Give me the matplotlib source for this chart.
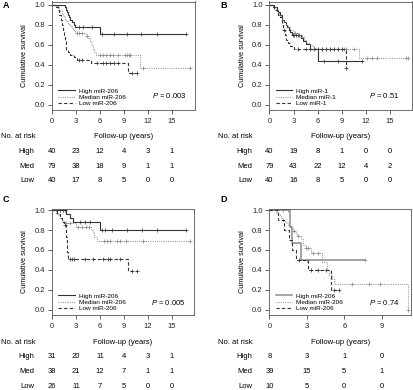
import numpy as np
import matplotlib
matplotlib.use("Agg")
import matplotlib.pyplot as plt
from matplotlib import transforms

plt.rcParams['font.family'] = ['Liberation Sans', 'DejaVu Sans']
plt.rcParams['mathtext.fontset'] = 'custom'
plt.rcParams['mathtext.it'] = 'Liberation Sans:italic'
plt.rcParams['mathtext.rm'] = 'Liberation Sans'

W, H = 414, 390

# ---------------- data ----------------
# each curve: step times, survival after each step, censor times
A_high_t = [1.6, 1.7, 1.85, 2.0, 2.1, 2.3, 2.5, 2.7, 2.9, 6.0]
A_high_s = [0.975, 0.95, 0.925, 0.90, 0.875, 0.85, 0.825, 0.80, 0.78, 0.71]
A_high_c = [3.4, 3.9, 5.0, 6.2, 7.7, 9.4, 11.2, 13.1, 16.8]
A_med_t = [0.5, 0.7, 0.9, 1.0, 1.2, 1.4, 1.6, 1.8, 2.0, 2.2, 2.5, 2.7, 2.9, 4.2, 4.5, 4.7, 4.9, 5.1, 5.3, 5.5, 11.0]
A_med_s = [0.987, 0.975, 0.95, 0.937, 0.91, 0.885, 0.86, 0.835, 0.81, 0.785, 0.76, 0.735, 0.715,
           0.69, 0.665, 0.64, 0.60, 0.56, 0.53, 0.50, 0.37]
A_med_c = [3.1, 3.4, 3.8, 4.4, 6.0, 6.4, 6.8, 7.2, 7.6, 8.2, 9.2, 9.4, 9.6, 9.8, 11.4, 17.25]
A_low_t = [0.4, 0.7, 0.9, 1.1, 1.3, 1.4, 1.5, 1.6, 1.7, 1.8, 2.0, 2.25, 2.7, 3.1, 4.9, 9.5]
A_low_s = [0.975, 0.95, 0.9, 0.85, 0.8, 0.75, 0.7, 0.65, 0.6, 0.55, 0.525, 0.5, 0.475, 0.45, 0.42, 0.32]
A_low_c = [3.4, 3.8, 5.6, 6.4, 6.8, 7.25, 7.7, 8.3, 10.0, 10.6]

B_high_t = [0.6, 0.9, 1.1, 1.3, 1.5, 1.6, 1.8, 2.0, 2.2, 2.4, 2.6, 2.8, 3.9, 4.2, 4.5, 5.0, 6.0]
B_high_s = [0.975, 0.95, 0.925, 0.9, 0.875, 0.85, 0.825, 0.8, 0.775, 0.75, 0.725, 0.70,
            0.67, 0.64, 0.61, 0.56, 0.44]
B_high_c = [2.9, 3.1, 3.3, 3.5, 3.7, 6.8, 8.5, 11.6]
B_med_t = [0.3, 0.5, 0.8, 1.0, 1.2, 1.4, 1.6, 1.8, 2.0, 2.3, 2.6, 3.0, 3.5, 4.0, 4.3, 4.6, 5.0, 5.4, 5.7, 11.2]
B_med_s = [0.99, 0.975, 0.95, 0.925, 0.9, 0.875, 0.85, 0.825, 0.8, 0.775, 0.75, 0.72, 0.70,
           0.68, 0.65, 0.62, 0.60, 0.58, 0.56, 0.47]
B_med_c = [3.2, 4.1, 6.0, 6.5, 7.0, 7.5, 8.0, 8.5, 9.0, 9.3, 9.6, 10.6, 12.2, 12.8, 13.4, 17.0, 17.3]
B_low_t = [0.3, 0.6, 0.9, 1.1, 1.3, 1.5, 1.6, 1.7, 1.9, 2.1, 2.3, 2.6, 3.0, 9.5]
B_low_s = [0.975, 0.95, 0.925, 0.9, 0.875, 0.85, 0.8, 0.75, 0.7, 0.65, 0.62, 0.59, 0.555, 0.37]
B_low_c = [1.8, 3.5, 4.5, 5.0, 5.5, 6.0, 6.5, 7.0, 7.5, 8.0, 8.5, 9.0, 9.6]

C_high_t = [1.8, 2.2, 2.6, 6.0]
C_high_s = [0.957, 0.917, 0.883, 0.80]
C_high_c = [1.0, 1.4, 1.6, 3.5, 4.1, 4.75, 6.2, 6.6, 7.5, 9.4, 11.2, 13.1, 16.8]
C_med_t = [0.5, 0.7, 1.0, 1.3, 1.6, 3.0, 4.9, 5.1, 5.3, 5.6]
C_med_s = [0.974, 0.947, 0.92, 0.894, 0.867, 0.835, 0.80, 0.77, 0.735, 0.69]
C_med_c = [1.8, 2.2, 3.3, 3.7, 4.2, 4.6, 6.5, 6.9, 7.3, 8.1, 8.5, 9.2, 11.4, 17.2]
C_low_t = [0.6, 1.0, 1.3, 1.5, 1.7, 1.8, 1.85, 1.9, 2.0, 9.5]
C_low_s = [0.962, 0.923, 0.885, 0.846, 0.808, 0.731, 0.654, 0.577, 0.515, 0.386]
C_low_c = [1.6, 2.3, 2.5, 2.7, 4.1, 5.1, 6.4, 7.0, 7.3, 8.5, 10.0, 10.6]

D_high_t = [1.65, 1.8, 2.55]
D_high_s = [0.833, 0.667, 0.5]
D_high_c = [0.6, 1.1, 1.5, 3.0, 7.7]
D_med_t = [0.5, 0.7, 0.9, 1.1, 1.3, 1.5, 1.7, 1.9, 2.1, 2.3, 2.5, 2.7, 2.9, 3.3, 4.2, 4.6, 4.8, 5.0, 5.2, 11.1]
D_med_s = [0.975, 0.95, 0.92, 0.895, 0.87, 0.845, 0.82, 0.79, 0.765, 0.74, 0.71, 0.65, 0.62,
           0.57, 0.48, 0.40, 0.355, 0.31, 0.265, 0.0]
D_med_c = [2.0, 2.3, 2.9, 3.1, 3.5, 3.9, 6.6, 8.0, 8.9, 11.1]
D_low_t = [0.7, 1.2, 1.6, 1.8, 2.1, 3.1, 4.9]
D_low_s = [0.9, 0.8, 0.7, 0.6, 0.5, 0.4, 0.2]
D_low_c = [2.4, 3.3, 3.9, 4.5, 5.2, 5.55]

A_risk = [[40, 23, 12, 4, 3, 1], [79, 38, 18, 9, 1, 1], [40, 17, 8, 5, 0, 0]]
B_risk = [[40, 19, 8, 1, 0, 0], [79, 43, 22, 12, 4, 2], [40, 16, 8, 5, 0, 0]]
C_risk = [[31, 20, 11, 4, 3, 1], [38, 21, 12, 7, 1, 1], [26, 11, 7, 5, 0, 0]]
D_risk = [[8, 3, 1, 0], [39, 15, 5, 1], [10, 5, 0, 0]]

risk_rows = ['High', 'Med', 'Low']
ticks_long = [0, 3, 6, 9, 12, 15]
ticks_short = [0, 3, 6, 9]


def km(ax, t, s, c, **kw):
    tt = np.concatenate([[0], t])
    ss = np.concatenate([[1.0], s])
    end = max(max(c), tt[-1])
    xs = np.append(tt, end)
    ys = np.append(ss, ss[-1])
    ax.step(xs, ys, where='post', **kw)
    c = np.array(c)
    cy = ss[np.searchsorted(tt, c, side='right') - 1]
    ax.plot(c, cy, ls='none', marker='+', ms=3.2, mew=0.5, color=kw.get('color'))


fig = plt.figure(figsize=(W / 100, H / 100), dpi=100)

def add_ax(l, t, r, b):
    return fig.add_axes([l / W, 1 - b / H, (r - l) / W, (b - t) / H])

high_kw = dict(color='#333333', lw=0.8, ls='-')
med_kw = dict(color='#8a8a8a', lw=0.8, ls=(0, (0.8, 1.2)))
low_kw = dict(color='#333333', lw=0.8, ls=(0, (3, 2)))

panels = [
    # letter, box (l, t, r, b), xmax, ylim, curves, risk, ticks, gene, p, dy
    ('A', (52, 1.5, 195, 110), 17.9, (-0.055, 1.035),
     [(A_high_t, A_high_s, A_high_c), (A_med_t, A_med_s, A_med_c), (A_low_t, A_low_s, A_low_c)],
     A_risk, ticks_long, 'miR-206', '0.003', 0),
    ('B', (269.5, 1.5, 412, 110), 17.8, (-0.055, 1.035),
     [(B_high_t, B_high_s, B_high_c), (B_med_t, B_med_s, B_med_c), (B_low_t, B_low_s, B_low_c)],
     B_risk, ticks_long, 'miR-1', '0.51', 0),
    ('C', (52, 209, 194, 315), 17.75, (-0.05, 1.01),
     [(C_high_t, C_high_s, C_high_c), (C_med_t, C_med_s, C_med_c), (C_low_t, C_low_s, C_low_c)],
     C_risk, ticks_long, 'miR-206', '0.005', 205),
    ('D', (269.5, 209, 411, 315), 11.35, (-0.05, 1.01),
     [(D_high_t, D_high_s, D_high_c), (D_med_t, D_med_s, D_med_c), (D_low_t, D_low_s, D_low_c)],
     D_risk, ticks_short, 'miR-206', '0.74', 205),
]

for letter, box, xmax, ylim, curves, risk, xt, gene, pval, dy in panels:
    l, t, r, b = box
    ax = add_ax(l, t, r, b)
    hk = dict(high_kw)
    if letter == 'D':
        hk.update(color='#8c8c8c', lw=1.1)
    styles = [hk, med_kw, low_kw]
    names = ['High ' + gene, 'Median ' + gene, 'Low ' + gene]
    for (ct, cs, cc), st, nm in zip(curves, styles, names):
        km(ax, ct, cs, cc, label=nm, **st)
    ax.set_xlim(0, xmax)
    ax.set_ylim(*ylim)
    ax.set_xticks(xt)
    ax.set_yticks(np.arange(0, 1.01, 0.2))
    ax.set_yticklabels(['%.1f' % v for v in np.arange(0, 1.01, 0.2)])
    ax.tick_params(length=3, width=0.5, pad=2, labelsize=5.5, colors='#222222')
    ax.tick_params(axis='x', pad=3)
    for sp in ax.spines.values():
        sp.set_linewidth(0.6)
        sp.set_color('#555555')
    ax.set_ylabel('Cumulative survival', fontsize=5.2, labelpad=4.5)
    ax.legend(loc='lower left', fontsize=4.6, frameon=False, handlelength=2.6,
              handletextpad=0.6, labelspacing=0.15, borderaxespad=0.15,
              bbox_to_anchor=(0.02, 0.0))
    ax.text(0.7, 0.13 if dy == 0 else 0.12, r'$P$ = ' + pval, transform=ax.transAxes,
            fontsize=5.5, ha='left', va='center')

    # panel letter
    fig.text((l - 49) / W, 1 - (t + 3.5 if dy == 0 else t - 9) / H, letter,
             fontsize=6.5, fontweight='bold', ha='left', va='center')

    # risk table
    blend = transforms.blended_transform_factory(ax.transData, fig.transFigure)
    fig.text((l - 51) / W, 1 - (137 + dy) / H, 'No. at risk', fontsize=5.5, ha='left', va='center')
    fig.text((l + r) / 2 / W, 1 - (137 + dy) / H, 'Follow-up (years)', fontsize=5.5,
             ha='center', va='center')
    for i, (name, row) in enumerate(zip(risk_rows, risk)):
        yy = 1 - (152 + 14.5 * i + dy) / H
        fig.text((l - 17.5) / W, yy, name, fontsize=5.5, ha='right', va='center')
        for xv, n in zip(xt, row):
            ax.text(xv, yy, str(n), transform=blend, fontsize=5.5, ha='center', va='center')

fig.savefig('out.png', dpi=100)
